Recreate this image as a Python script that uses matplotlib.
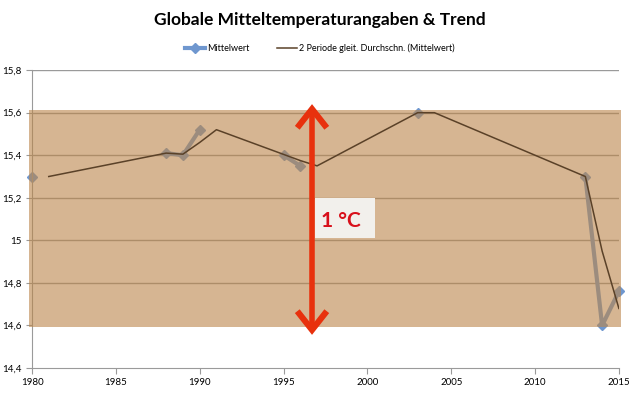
import matplotlib
matplotlib.use("Agg")
import matplotlib.pyplot as plt
from matplotlib.patches import Rectangle
import numpy as np

# Data
years = [1980, 1988, 1989, 1990, 1995, 1996, 2003, 2013, 2014, 2015]
temps = [15.30, 15.41, 15.40, 15.52, 15.40, 15.35, 15.60, 15.30, 14.60, 14.76]
trend_years = [1981, 1988, 1989, 1990, 1991, 1996, 1997, 2003, 2004, 2013, 2014, 2015]
trend_vals = [15.30, 15.41, 15.405, 15.46, 15.52, 15.375, 15.35, 15.60, 15.60, 15.30, 14.95, 14.68]
band_low, band_high = 14.6, 15.6
y_ticks = [14.4, 14.6, 14.8, 15.0, 15.2, 15.4, 15.6, 15.8]
y_labels = ["14,4", "14,6", "14,8", "15", "15,2", "15,4", "15,6", "15,8"]
x_ticks = [1980, 1985, 1990, 1995, 2000, 2005, 2010, 2015]

plt.rcParams['font.family'] = ['Lato', 'DejaVu Sans']

fig = plt.figure(figsize=(6.4, 3.94), dpi=100)
ax = fig.add_axes([0.05, 0.066, 0.917, 0.756])
ax.set_xlim(1980, 2015)
ax.set_ylim(14.4, 15.8)

# gridlines (the 14.6 line is hidden by the band edge in the original)
for v in [14.8, 15.0, 15.2, 15.4, 15.6, 15.8]:
    ax.axhline(v, color="#9a9a9a", lw=1.0, zorder=1)

# Mittelwert series with gaps
blue = "#6f97cf"
groups = []
cur = [0]
for i in range(1, len(years)):
    if years[i] - years[i - 1] == 1:
        cur.append(i)
    else:
        groups.append(cur)
        cur = [i]
groups.append(cur)
first = True
for g in groups:
    xs = [years[i] for i in g]
    ys = [temps[i] for i in g]
    ax.plot(xs, ys, color=blue, lw=3, marker="D", ms=5.5, zorder=2,
            clip_on=False, label="Mittelwert" if first else None)
    first = False

# overlay band
rect = Rectangle((1979.8, band_low - 0.005), 35.3, band_high - band_low + 0.017,
                 facecolor=(187/255, 133/255, 73/255), alpha=0.6, edgecolor="none",
                 zorder=3, clip_on=False)
ax.add_patch(rect)

# moving average
ax.plot(trend_years, trend_vals, color="#5a4128", lw=1.1, zorder=4,
        label="2 Periode gleit. Durchschn. (Mittelwert)")

# red double arrow with open chevron heads
red = "#e8310d"
ax_x = 1996.7
top, bot = 15.617, 14.579
hw, hh = 0.88, 0.088
ax.plot([ax_x, ax_x], [top - 0.01, bot + 0.01], color=red, lw=4, zorder=5,
        solid_capstyle="butt")
ax.plot([ax_x - hw, ax_x, ax_x + hw], [top - hh, top, top - hh], color=red, lw=4.4,
        zorder=5, solid_joinstyle="miter", solid_capstyle="butt")
ax.plot([ax_x - hw, ax_x, ax_x + hw], [bot + hh, bot, bot + hh], color=red, lw=4.4,
        zorder=5, solid_joinstyle="miter", solid_capstyle="butt")

# label box
box = Rectangle((1996.85, 15.011), 3.6, 0.188, facecolor="#f2f0ec",
                edgecolor="none", zorder=6)
ax.add_patch(box)
ax.text(1998.4, 15.09, "1 °C", color="#d8101b", fontsize=15, fontweight="bold",
        ha="center", va="center", zorder=7)

# axes styling
for s in ["top", "right"]:
    ax.spines[s].set_visible(False)
for s in ["left", "bottom"]:
    ax.spines[s].set_color("#9a9a9a")
ax.set_yticks(y_ticks)
ax.set_yticklabels(y_labels)
ax.set_xticks(x_ticks)
ax.tick_params(axis="both", labelsize=7, color="#9a9a9a", length=4, direction="out")
ax.tick_params(axis="x", pad=3)

fig.text(0.5, 0.948, "Globale Mitteltemperaturangaben & Trend", ha="center",
         va="center", fontsize=12.5, fontweight="bold")
leg = fig.legend(*ax.get_legend_handles_labels(), loc="center",
                 bbox_to_anchor=(0.5, 0.878), ncol=2, frameon=False, fontsize=6.5,
                 handlelength=2.2, columnspacing=3, handletextpad=0.3)

fig.savefig("out.png", dpi=100)
